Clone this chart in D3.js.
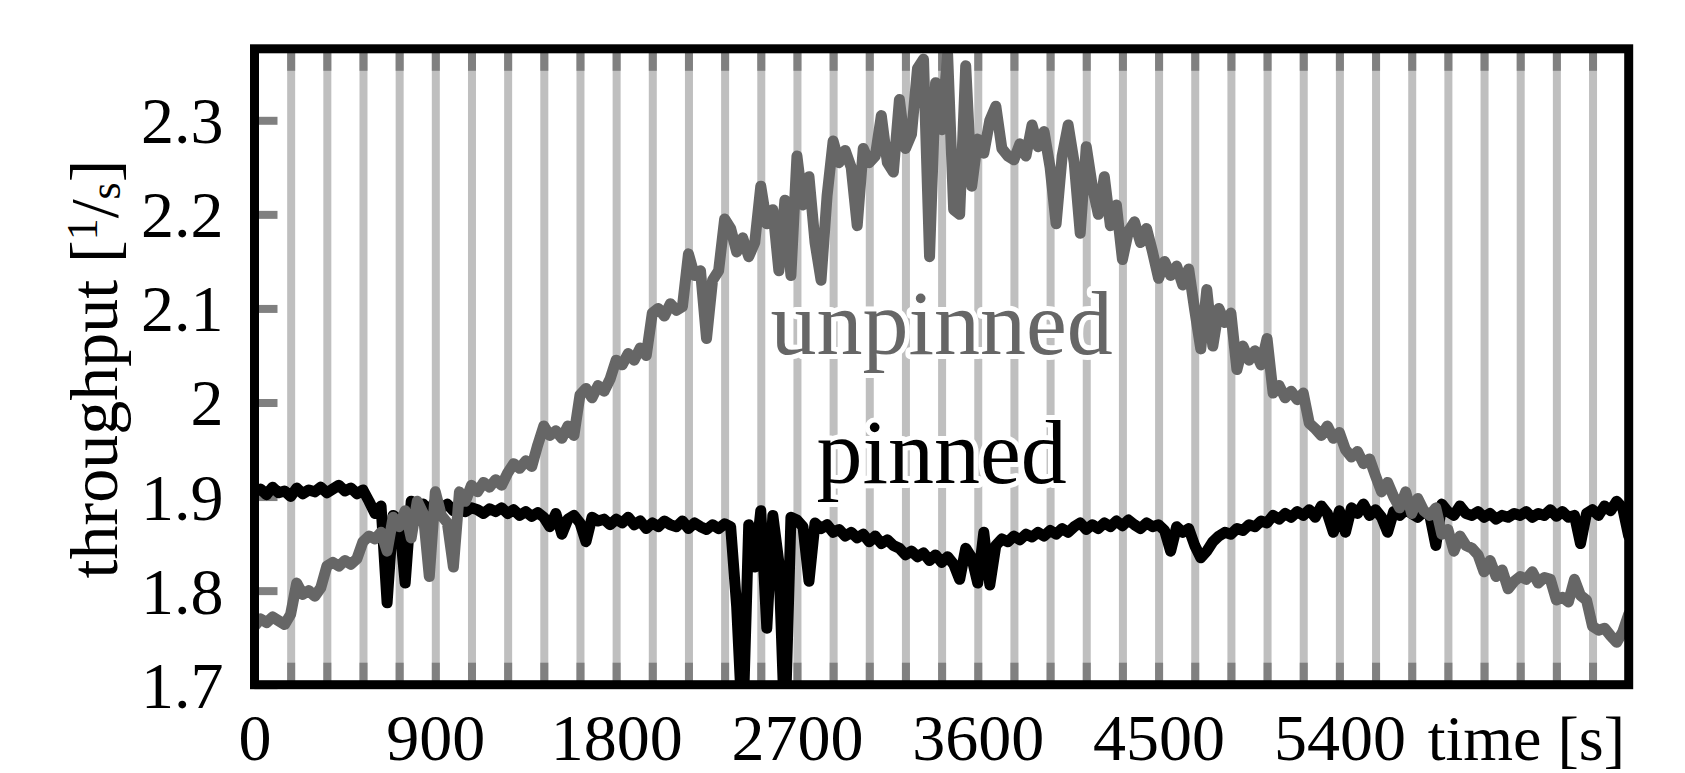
<!DOCTYPE html>
<html><head><meta charset="utf-8">
<script src="https://cdn.jsdelivr.net/npm/d3@7"></script>
<style>
html,body{margin:0;padding:0;background:#fff;}
svg{display:block;}
text{font-family:"Liberation Serif","Times New Roman",serif;}
</style>
</head><body>
<svg id="chart" width="1685" height="773"></svg>
<script>
// ---------------- data ----------------
const sampleStepSeconds = 30;
const seriesNames = ["pinned", "unpinned"];
const unpinnedThroughput = [
  1.762,1.770,1.766,1.772,1.768,1.764,1.775,1.808,1.796,1.800,
  1.794,1.803,1.826,1.830,1.826,1.832,1.828,1.834,1.852,1.858,
  1.855,1.862,1.842,1.878,1.868,1.885,1.856,1.895,1.882,1.815,
  1.905,1.880,1.872,1.825,1.905,1.895,1.912,1.905,1.915,1.910,
  1.918,1.912,1.925,1.935,1.930,1.938,1.932,1.955,1.975,1.965,
  1.970,1.962,1.975,1.965,2.008,2.015,2.005,2.018,2.012,2.025,
  2.045,2.040,2.052,2.045,2.058,2.050,2.095,2.100,2.092,2.105,
  2.098,2.102,2.158,2.135,2.140,2.068,2.130,2.140,2.195,2.185,
  2.160,2.175,2.155,2.170,2.230,2.190,2.205,2.140,2.215,2.135,
  2.262,2.210,2.240,2.170,2.130,2.220,2.278,2.255,2.268,2.250,
  2.188,2.270,2.255,2.262,2.305,2.255,2.245,2.322,2.270,2.285,
  2.355,2.365,2.155,2.340,2.290,2.370,2.205,2.200,2.358,2.230,
  2.280,2.265,2.300,2.315,2.270,2.262,2.258,2.275,2.262,2.295,
  2.272,2.288,2.250,2.190,2.262,2.295,2.255,2.180,2.272,2.230,
  2.200,2.240,2.188,2.210,2.152,2.182,2.192,2.170,2.185,2.160,
  2.132,2.150,2.135,2.145,2.125,2.142,2.098,2.057,2.120,2.060,
  2.100,2.085,2.095,2.035,2.060,2.045,2.055,2.040,2.068,2.010,
  2.018,2.005,2.012,2.003,2.010,1.978,1.972,1.965,1.975,1.962,
  1.968,1.950,1.942,1.948,1.935,1.940,1.922,1.905,1.915,1.900,
  1.888,1.905,1.882,1.898,1.885,1.880,1.888,1.860,1.865,1.842,
  1.858,1.848,1.845,1.838,1.820,1.832,1.815,1.822,1.802,1.810,
  1.815,1.812,1.820,1.808,1.814,1.812,1.790,1.793,1.788,1.812,
  1.795,1.790,1.762,1.758,1.760,1.752,1.745,1.756,1.775
];
const pinnedThroughput = [
  1.905,1.908,1.902,1.910,1.904,1.906,1.900,1.909,1.903,1.907,
  1.905,1.910,1.904,1.908,1.912,1.906,1.909,1.903,1.907,1.895,
  1.882,1.890,1.787,1.880,1.875,1.808,1.895,1.880,1.892,1.885,
  1.895,1.888,1.892,1.885,1.890,1.884,1.888,1.886,1.882,1.887,
  1.884,1.888,1.882,1.886,1.880,1.884,1.879,1.883,1.878,1.868,
  1.882,1.860,1.876,1.880,1.872,1.852,1.878,1.874,1.876,1.870,
  1.876,1.872,1.878,1.870,1.874,1.866,1.872,1.868,1.874,1.870,
  1.868,1.874,1.866,1.872,1.868,1.865,1.870,1.866,1.871,1.868,
  1.783,1.650,1.870,1.825,1.885,1.760,1.880,1.830,1.650,1.878,
  1.875,1.868,1.810,1.872,1.866,1.870,1.862,1.865,1.858,1.862,
  1.856,1.860,1.852,1.858,1.850,1.854,1.848,1.845,1.838,1.842,
  1.836,1.840,1.832,1.838,1.830,1.836,1.828,1.812,1.845,1.835,
  1.808,1.862,1.806,1.848,1.855,1.852,1.858,1.854,1.860,1.857,
  1.862,1.858,1.864,1.860,1.866,1.862,1.868,1.872,1.865,1.870,
  1.866,1.872,1.868,1.874,1.869,1.875,1.870,1.866,1.872,1.868,
  1.870,1.864,1.842,1.868,1.862,1.866,1.848,1.835,1.842,1.852,
  1.858,1.862,1.860,1.866,1.864,1.870,1.868,1.874,1.872,1.880,
  1.876,1.882,1.878,1.884,1.880,1.886,1.878,1.890,1.882,1.862,
  1.885,1.862,1.888,1.882,1.892,1.880,1.886,1.878,1.862,1.884,
  1.880,1.886,1.882,1.878,1.884,1.880,1.848,1.892,1.884,1.880,
  1.890,1.882,1.880,1.884,1.878,1.882,1.876,1.880,1.878,1.882,
  1.880,1.884,1.878,1.882,1.880,1.886,1.879,1.884,1.878,1.880,
  1.850,1.882,1.886,1.880,1.890,1.885,1.895,1.888,1.858
];
const xDomain = [0, 6840];
const xTickValues = [0, 900, 1800, 2700, 3600, 4500, 5400];
const xTickLabels = ["0", "900", "1800", "2700", "3600", "4500", "5400"];
const xGridStepSeconds = 180;
const yDomain = [1.7, 2.376];
const yTickValues = [1.7, 1.8, 1.9, 2.0, 2.1, 2.2, 2.3];
const yTickLabels = ["1.7", "1.8", "1.9", "2", "2.1", "2.2", "2.3"];
const annotationTime = 3420;
const annotationValues = {unpinned: 2.052, pinned: 1.914};

// ---------------- layout ----------------
const W = 1685, H = 773;
const plot = {left: 254.5, right: 1628.7, top: 48.8, bottom: 684.7};
const colors = {unpinned: "#666666", pinned: "#000000", grid: "#bfbfbf", tick: "#808080"};

const svg = d3.select("#chart");
svg.append("rect").attr("width", W).attr("height", H).attr("fill", "#fff");

const x = d3.scaleLinear().domain(xDomain).range([plot.left, plot.right]);
const y = d3.scaleLinear().domain(yDomain).range([plot.bottom, plot.top]);
const plotH = plot.bottom - plot.top;

// grid lines (light) every 180 s
const gridValues = d3.range(xGridStepSeconds, xDomain[1], xGridStepSeconds);
const gridAxis = svg.append("g")
  .attr("transform", `translate(0,${plot.bottom})`)
  .call(d3.axisBottom(x).tickValues(gridValues).tickSize(-plotH).tickFormat(""));
gridAxis.select(".domain").remove();
gridAxis.selectAll("line").attr("stroke", colors.grid).attr("stroke-width", 8);

// dark ticks at bottom and top
const tickLen = 22;
const bottomTicks = svg.append("g")
  .attr("transform", `translate(0,${plot.bottom})`)
  .call(d3.axisBottom(x).tickValues(gridValues).tickSize(-tickLen).tickFormat(""));
bottomTicks.select(".domain").remove();
bottomTicks.selectAll("line").attr("stroke", colors.tick).attr("stroke-width", 8);
const topTicks = svg.append("g")
  .attr("transform", `translate(0,${plot.top})`)
  .call(d3.axisTop(x).tickValues(gridValues).tickSize(-tickLen).tickFormat(""));
topTicks.select(".domain").remove();
topTicks.selectAll("line").attr("stroke", colors.tick).attr("stroke-width", 8);

// y axis ticks + labels
const yAxis = svg.append("g")
  .attr("transform", `translate(${plot.left},0)`)
  .call(d3.axisLeft(y).tickValues(yTickValues).tickSize(-23).tickPadding(31)
    .tickFormat((d, i) => yTickLabels[i]));
yAxis.select(".domain").remove();
yAxis.selectAll("line").attr("stroke", colors.tick).attr("stroke-width", 8);
yAxis.selectAll("text").attr("font-size", 66).attr("fill", "#000")
  .attr("font-family", "Liberation Serif, serif").attr("dy", 22.5);

// x axis labels
const xAxis = svg.append("g")
  .attr("transform", `translate(0,${plot.bottom})`)
  .call(d3.axisBottom(x).tickValues(xTickValues).tickSize(0)
    .tickFormat((d, i) => xTickLabels[i]));
xAxis.select(".domain").remove();
xAxis.selectAll("text").attr("font-size", 66).attr("fill", "#000")
  .attr("font-family", "Liberation Serif, serif").attr("y", 75.5).attr("dy", 0);

// clip
svg.append("clipPath").attr("id", "plotclip").append("rect")
  .attr("x", plot.left).attr("y", plot.top)
  .attr("width", plot.right - plot.left).attr("height", plotH);

const line = d3.line()
  .x((d, i) => x(i * sampleStepSeconds))
  .y(d => y(d));

const lines = svg.append("g").attr("clip-path", "url(#plotclip)");
lines.append("path").datum(pinnedThroughput)
  .attr("d", line).attr("fill", "none").attr("stroke", colors.pinned)
  .attr("stroke-width", 11).attr("stroke-linejoin", "round").attr("stroke-linecap", "round");
lines.append("path").datum(unpinnedThroughput)
  .attr("d", line).attr("fill", "none").attr("stroke", colors.unpinned)
  .attr("stroke-width", 11).attr("stroke-linejoin", "round").attr("stroke-linecap", "round");

// annotations with white halo
seriesNames.forEach(name => {
  svg.append("text")
    .attr("x", x(annotationTime)).attr("y", y(annotationValues[name]))
    .attr("text-anchor", "middle").attr("font-size", 92)
    .attr("fill", colors[name]).attr("stroke", "#fff").attr("stroke-width", 10)
    .attr("stroke-linejoin", "round").attr("paint-order", "stroke")
    .text(name);
});

// frame
svg.append("rect")
  .attr("x", plot.left).attr("y", plot.top)
  .attr("width", plot.right - plot.left).attr("height", plotH)
  .attr("fill", "none").attr("stroke", "#000").attr("stroke-width", 9);

// axis titles
svg.append("text").attr("x", 1625).attr("y", 760)
  .attr("text-anchor", "end").attr("font-size", 64).attr("fill", "#000")
  .text("time [s]");

const yl = svg.append("text")
  .attr("transform", "translate(116.7,369) rotate(-90)")
  .attr("text-anchor", "middle").attr("font-size", 68).attr("fill", "#000");
yl.append("tspan").text("throughput [");
yl.append("tspan").attr("font-size", 44).attr("dy", -20).text("1");
yl.append("tspan").attr("font-size", 68).attr("dy", 20).text("/");
yl.append("tspan").attr("font-size", 44).attr("dy", 3).text("s");
yl.append("tspan").attr("font-size", 68).attr("dy", -3).text("]");
</script>
</body></html>
